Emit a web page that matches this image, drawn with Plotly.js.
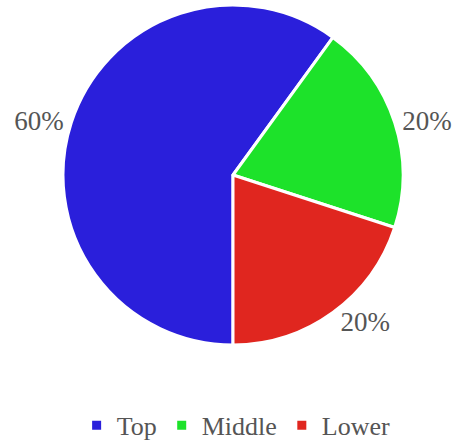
<!DOCTYPE html>
<html>
<head>
<meta charset="utf-8">
<script src="https://cdn.plot.ly/plotly-3.0.1.min.js"></script>
<style>html,body{margin:0;padding:0;background:#fff;}</style>
</head>
<body>
<div id="chart" style="width:463px;height:444px;"></div>
<script>
var categories = ["Top", "Middle", "Lower"];
var values = [60, 20, 20];
var colors = ["#2a1fdb", "#1de22a", "#e0261f"];

var data = [{
  type: "pie",
  labels: categories,
  values: values,
  sort: false,
  direction: "clockwise",
  rotation: 180,
  textposition: "outside",
  textinfo: "percent",
  texttemplate: "%{percent:.0%}",
  hoverinfo: "label+percent",
  marker: {colors: colors, line: {color: "#ffffff", width: 3}},
  textfont: {family: "Liberation Serif", size: 27, color: "#555555"},
  outsidetextfont: {family: "Liberation Serif", size: 27, color: "#555555"}
}];

var layout = {
  width: 463,
  height: 444,
  margin: {l: 63, r: 60, t: 5, b: 99},
  paper_bgcolor: "#ffffff",
  showlegend: true,
  legend: {
    orientation: "h",
    x: 0.51, xanchor: "center", xref: "container",
    y: 0.042, yanchor: "middle", yref: "container",
    font: {family: "Liberation Serif", size: 26, color: "#555555"},
    itemwidth: 30
  },
  font: {family: "Liberation Serif", color: "#555555"}
};

Plotly.newPlot("chart", data, layout, {displayModeBar: false, staticPlot: true});
</script>
</body>
</html>
